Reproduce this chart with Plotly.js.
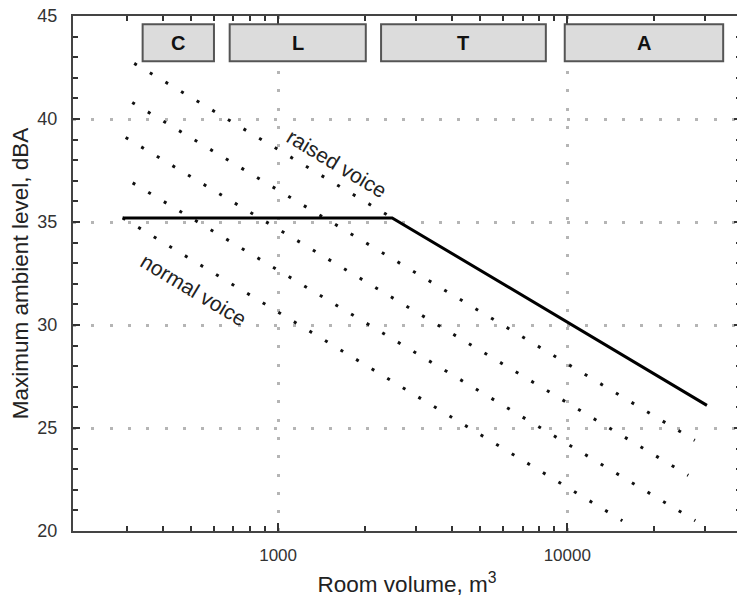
<!DOCTYPE html>
<html>
<head>
<meta charset="utf-8">
<script src="https://cdn.plot.ly/plotly-3.0.1.min.js"></script>
<style>
  html, body { margin: 0; padding: 0; background: #fff; overflow: hidden; }
  #chart { width: 741px; height: 604px; }
</style>
</head>
<body>
<div id="chart"></div>
<script>
// ---- Data ----
// Recommended maximum ambient level (solid line)
const limitVolume = [290, 2480, 30400];
const limitLevel  = [35.2, 35.2, 26.1];

// Dotted guide lines (room volume vs level), top to bottom
const guide1Volume = [318, 2480];   const guide1Level = [42.7, 35.2];
const guide2Volume = [313, 27600];  const guide2Level = [40.8, 24.4];
const guide3Volume = [297, 26200];  const guide3Level = [39.1, 22.7];
const guide4Volume = [314, 27700];  const guide4Level = [36.9, 20.5];
const guide5Volume = [290, 15500];  const guide5Level = [35.2, 20.5];

// Room-type bands at the top
const bandLabels = ['C', 'L', 'T', 'A'];
const bandStart  = [340, 680, 2270, 9800];
const bandEnd    = [600, 2010, 8430, 34600];

// Axis ticks
const xMajorTicks = [1000, 10000];
const xMajorText  = ['1000', '10000'];
const xMinorTicks = [300, 400, 500, 600, 700, 800, 900,
                     2000, 3000, 4000, 5000, 6000, 7000, 8000, 9000,
                     20000, 30000];
const yMajorTicks = [20, 25, 30, 35, 40, 45];

// Curve labels
const voiceLabels = ['raised voice', 'normal voice'];
const voiceVolume = [1600, 508];
const voiceLevel  = [37.85, 31.7];

// ---- Build chart ----
const FONT = 'Liberation Sans, Arial, sans-serif';
const guides = [
  [guide1Volume, guide1Level], [guide2Volume, guide2Level],
  [guide3Volume, guide3Level], [guide4Volume, guide4Level],
  [guide5Volume, guide5Level]
];
const traces = guides.map(g => ({
  x: g[0], y: g[1], type: 'scatter', mode: 'lines',
  line: { color: '#111', width: 3, dash: '3px,15.2px' },
  hoverinfo: 'skip', showlegend: false
}));
traces.push({
  x: limitVolume, y: limitLevel, type: 'scatter', mode: 'lines',
  line: { color: '#000', width: 3 }, showlegend: false
});

const shapes = bandLabels.map((_, i) => ({
  type: 'rect', xref: 'x', yref: 'y',
  x0: bandStart[i], x1: bandEnd[i], y0: 42.8, y1: 44.6,
  fillcolor: '#dcdcdc', line: { color: '#555', width: 2 }, layer: 'above'
}));

const annotations = bandLabels.map((t, i) => ({
  x: (Math.log10(bandStart[i]) + Math.log10(bandEnd[i])) / 2, y: 43.7,
  xref: 'x', yref: 'y', text: '<b>' + t + '</b>', showarrow: false,
  font: { family: FONT, size: 20, color: '#111' }
}));
voiceLabels.forEach((t, i) => annotations.push({
  x: Math.log10(voiceVolume[i]), y: voiceLevel[i], xref: 'x', yref: 'y',
  text: t, showarrow: false, textangle: 31,
  font: { family: FONT, size: 21, color: '#222' }
}));

const layout = {
  width: 741, height: 604,
  margin: { l: 73, r: 0, t: 16, b: 73 },
  paper_bgcolor: '#fff', plot_bgcolor: '#fff',
  font: { family: FONT, color: '#333' },
  showlegend: false,
  xaxis: {
    type: 'log', range: [2.2907, 4.6007],
    tickmode: 'array', tickvals: xMajorTicks, ticktext: xMajorText,
    ticks: 'inside', ticklen: 8, tickwidth: 2, tickcolor: '#333',
    showline: true, linecolor: '#444', linewidth: 2, mirror: 'ticks',
    showgrid: true, gridcolor: '#b5b5b5', gridwidth: 3, griddash: '3px,15.3px',
    zeroline: false,
    minor: { tickmode: 'array', tickvals: xMinorTicks, ticks: 'inside',
             ticklen: 5, tickwidth: 2, tickcolor: '#333', showgrid: false },
    tickfont: { family: FONT, size: 17, color: '#333' },
    ticklabelstandoff: 8,
    title: { text: 'Room volume, m<sup>3</sup>', standoff: 12,
             font: { family: FONT, size: 22.5, color: '#222' } }
  },
  yaxis: {
    range: [20, 45],
    tickmode: 'array', tickvals: yMajorTicks,
    ticks: 'inside', ticklen: 7, tickwidth: 2, tickcolor: '#333',
    showline: true, linecolor: '#444', linewidth: 2, mirror: 'ticks',
    showgrid: true, gridcolor: '#b5b5b5', gridwidth: 3, griddash: '3px,15.3px',
    zeroline: false,
    minor: { dtick: 1, ticks: 'inside', ticklen: 5, tickwidth: 2,
             tickcolor: '#333', showgrid: false },
    tickfont: { family: FONT, size: 18, color: '#333' },
    ticklabelstandoff: 10,
    title: { text: 'Maximum ambient level, dBA', standoff: 2,
             font: { family: FONT, size: 22.5, color: '#222' } }
  },
  shapes: shapes,
  annotations: annotations
};

Plotly.newPlot('chart', traces, layout, { displayModeBar: false, staticPlot: true });
</script>
</body>
</html>
